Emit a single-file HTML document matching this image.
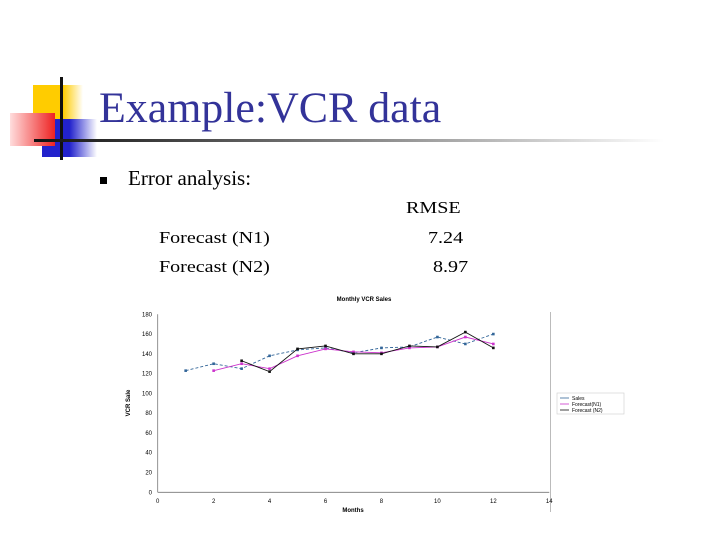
<!DOCTYPE html>
<html><head><meta charset="utf-8"><style>
body{margin:0;width:720px;height:540px;background:#fff;position:relative;overflow:hidden;font-family:"Liberation Serif",serif}
.abs{position:absolute}
.sx{transform:scaleX(1.18);transform-origin:left top}
</style></head><body>
<div class="abs" style="left:33px;top:85px;width:50px;height:44px;background:linear-gradient(90deg,#ffcc00 60%,#fff)"></div>
<div class="abs" style="left:42px;top:119px;width:55px;height:38px;background:linear-gradient(90deg,#2222cc 50%,#fff)"></div>
<div class="abs" style="left:10px;top:113px;width:45px;height:33px;background:linear-gradient(90deg,#ffdddd,#ee2222)"></div>
<div class="abs" style="left:60px;top:77px;width:3px;height:83px;background:#111"></div>
<div class="abs" style="left:34px;top:139px;width:630px;height:3px;background:linear-gradient(90deg,#111,#999 60%,#fff)"></div>
<div class="abs" style="left:99px;top:84px;font-size:43px;color:#333399;line-height:50px;transform:scaleX(1.02);transform-origin:left top">Example:VCR data</div>
<div class="abs" style="left:100px;top:177px;width:7px;height:7px;background:#000"></div>
<div class="abs" style="left:128px;top:166px;font-size:21px">Error analysis:</div>
<div class="abs sx" style="left:406px;top:198px;font-size:17px">RMSE</div>
<div class="abs sx" style="left:159px;top:228px;font-size:17px">Forecast (N1)</div>
<div class="abs sx" style="left:428px;top:228px;font-size:17px">7.24</div>
<div class="abs sx" style="left:159px;top:257px;font-size:17px">Forecast (N2)</div>
<div class="abs sx" style="left:433px;top:257px;font-size:17px">8.97</div>
<svg class="abs" style="left:0;top:0" width="720" height="540" id="chart"></svg>
<script>
const months=[1,2,3,4,5,6,7,8,9,10,11,12];
const sales=[123,130,125,138,144,146,141,146,147,157,150,160];
const n1=[null,123,130,125,138,145,142,141,146,147,157,150];
const n2=[null,null,133,122,145,148,140,140,148,147,162,146];
const xTicks=[0,2,4,6,8,10,12,14];
const yTicks=[0,20,40,60,80,100,120,140,160,180];
const svg=document.getElementById('chart');
const NS='http://www.w3.org/2000/svg';
const X=v=>157.7+v*27.97, Y=v=>492.3-v*0.989;
function mk(t,a,p){const e=document.createElementNS(NS,t);for(const k in a)e.setAttribute(k,a[k]);(p||svg).appendChild(e);return e;}
const f='font-family:"Liberation Sans",sans-serif';
let e=mk('text',{x:364,y:301,'font-size':6,'font-weight':'bold','text-anchor':'middle',style:f});e.textContent='Monthly VCR Sales';


e=mk('line',{x1:X(0),x2:X(14),y1:Y(0),y2:Y(0),stroke:'#777','stroke-width':0.8});


e=mk('line',{x1:X(0),x2:X(0),y1:Y(0),y2:Y(180),stroke:'#777','stroke-width':0.8});


e=mk('line',{x1:550.5,x2:550.5,y1:312,y2:512,stroke:'#bbb','stroke-width':1});


xTicks.forEach(t=>{const l=mk('text',{x:X(t),y:503,'font-size':6,'text-anchor':'middle',style:f});l.textContent=t;

});
yTicks.forEach(t=>{const l=mk('text',{x:152,y:Y(t)+2,'font-size':6,'text-anchor':'end',style:f});l.textContent=t;

});
e=mk('text',{x:353,y:512,'font-size':6,'font-weight':'bold','text-anchor':'middle',style:f});e.textContent='Months';


e=mk('text',{x:0,y:0,'font-size':6,'font-weight':'bold','text-anchor':'middle',style:f,transform:'translate(130,403) rotate(-90)'});e.textContent='VCR Sale';


function series(vals,col,dash,name){
  const pts=[];vals.forEach((v,i)=>{if(v!=null)pts.push([X(months[i]),Y(v)]);});
  const p=mk('polyline',{points:pts.map(q=>q.join(',')).join(' '),fill:'none',stroke:col,'stroke-width':0.9,'stroke-dasharray':dash});
  
  
  pts.forEach(q=>{const m=mk('rect',{x:q[0]-1.3,y:q[1]-1.3,width:2.6,height:2.6,fill:col});
  
  });
}
series(sales,'#336699','3,2','sales');
series(n1,'#cc33cc','','forecast-n1');
series(n2,'#111','','forecast-n2');
const lg=mk('g',{});


mk('rect',{x:557,y:393,width:67,height:21,fill:'#fff',stroke:'#ccc','stroke-width':0.6},lg);
[['Sales','#336699'],['Forecast(N1)','#cc33cc'],['Forecast (N2)','#111']].forEach((d,i)=>{
  const yy=398+i*6;
  mk('line',{x1:560,x2:569,y1:yy,y2:yy,stroke:d[1],'stroke-width':0.8},lg);
  const t=mk('text',{x:572,y:yy+2,'font-size':5,style:f},lg);t.textContent=d[0];
  
  
});
</script>
</body></html>
